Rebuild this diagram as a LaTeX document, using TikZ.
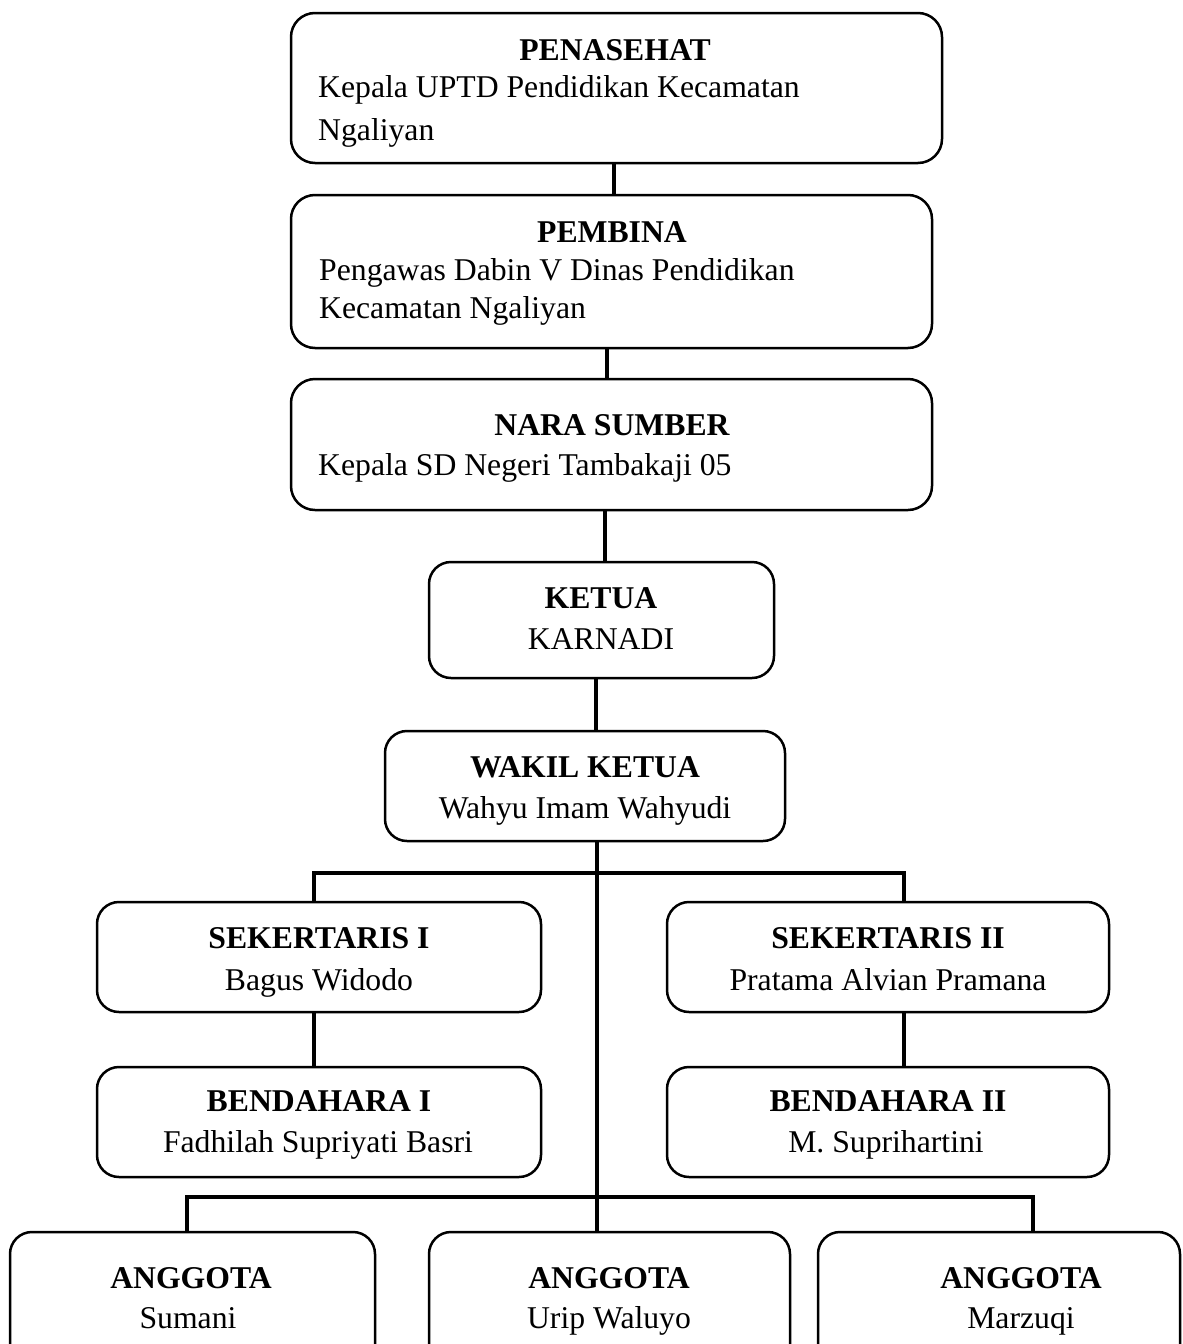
\documentclass[tikz,border=0pt]{standalone}
\usepackage{fontspec}
\setmainfont{Liberation Serif}
\begin{document}
\begin{tikzpicture}[x=1pt,y=-1pt,
  box/.style={draw, line width=2.5pt, rounded corners=24pt, inner sep=0pt},
  conn/.style={line width=3.5pt},
  ttl/.style={font=\fontsize{31.7}{38}\selectfont\bfseries, anchor=base, inner sep=0pt},
  txt/.style={font=\fontsize{31.7}{38}\selectfont, anchor=base, inner sep=0pt},
  txtl/.style={font=\fontsize{31.7}{38}\selectfont, anchor=base west, inner sep=0pt}]
\useasboundingbox (0,0) rectangle (1183,1344);
% boxes
\node[box, minimum width=651pt, minimum height=150pt] (pen) at (616.5,88) {};
\node[box, minimum width=641pt, minimum height=153pt] (pem) at (611.5,271.5) {};
\node[box, minimum width=641pt, minimum height=131pt] (nara) at (611.5,444.5) {};
\node[box, minimum width=345pt, minimum height=116pt, rounded corners=22pt] (ket) at (601.5,620) {};
\node[box, minimum width=400pt, minimum height=110pt, rounded corners=22pt] (wak) at (585,786) {};
\node[box, minimum width=444pt, minimum height=110pt, rounded corners=22pt] (sek1) at (319,957) {};
\node[box, minimum width=442pt, minimum height=110pt, rounded corners=22pt] (sek2) at (888,957) {};
\node[box, minimum width=444pt, minimum height=110pt, rounded corners=22pt] (ben1) at (319,1122) {};
\node[box, minimum width=442pt, minimum height=110pt, rounded corners=22pt] (ben2) at (888,1122) {};
\node[box, minimum width=365pt, minimum height=168pt, rounded corners=22pt] (ang1) at (192.5,1316) {};
\node[box, minimum width=361pt, minimum height=168pt, rounded corners=22pt] (ang2) at (609.5,1316) {};
\node[box, minimum width=362pt, minimum height=168pt, rounded corners=22pt] (ang3) at (999,1316) {};
% texts
\node[ttl] (t1) at (615,60) {PENASEHAT};
\node[txtl] (t1a) at (318,97) {Kepala UPTD Pendidikan Kecamatan};
\node[txtl] (t1b) at (318,140) {Ngaliyan};
\node[ttl] (t2) at (612,242) {PEMBINA};
\node[txtl] (t2a) at (319,280) {Pengawas Dabin V Dinas Pendidikan};
\node[txtl] (t2b) at (319,318) {Kecamatan Ngaliyan};
\node[ttl] (t3) at (612,435) {NARA SUMBER};
\node[txtl] (t3a) at (318,475) {Kepala SD Negeri Tambakaji 05};
\node[ttl] (t4) at (601,608) {KETUA};
\node[txt] (t4a) at (601,649) {KARNADI};
\node[ttl] (t5) at (585,777) {WAKIL KETUA};
\node[txt] (t5a) at (585,818) {Wahyu Imam Wahyudi};
\node[ttl] (t6) at (319,948) {SEKERTARIS I};
\node[txt] (t6a) at (319,990) {Bagus Widodo};
\node[ttl] (t7) at (888,948) {SEKERTARIS II};
\node[txt] (t7a) at (888,990) {Pratama Alvian Pramana};
\node[ttl] (t8) at (319,1111) {BENDAHARA I};
\node[txt] (t8a) at (318,1152) {Fadhilah Supriyati Basri};
\node[ttl] (t9) at (888,1111) {BENDAHARA II};
\node[txt] (t9a) at (886,1152) {M. Suprihartini};
\node[ttl] (t10) at (191,1288) {ANGGOTA};
\node[txt] (t10a) at (188,1328) {Sumani};
\node[ttl] (t11) at (609,1288) {ANGGOTA};
\node[txt] (t11a) at (609,1328) {Urip Waluyo};
\node[ttl] (t12) at (1021,1288) {ANGGOTA};
\node[txt] (t12a) at (1021,1328) {Marzuqi};
% connectors
\coordinate (j1) at (597,873);
\coordinate (j2) at (597,1197);
\draw[conn] (pen.south -| 614,0) -- (pem.north -| 614,0);
\draw[conn] (pem.south -| 607,0) -- (nara.north -| 607,0);
\draw[conn] (nara.south -| 605,0) -- (ket.north -| 605,0);
\draw[conn] (ket.south -| 596,0) -- (wak.north -| 596,0);
\draw[conn] (wak.south -| 597,0) -- (ang2.north -| 597,0);
\draw[conn] (sek1.north -| 314,0) |- (j1) -| (sek2.north -| 904,0);
\draw[conn] (sek1.south -| 314,0) -- (ben1.north -| 314,0);
\draw[conn] (sek2.south -| 904,0) -- (ben2.north -| 904,0);
\draw[conn] (ang1.north -| 187,0) |- (j2) -| (ang3.north -| 1033,0);
\end{tikzpicture}
\end{document}
